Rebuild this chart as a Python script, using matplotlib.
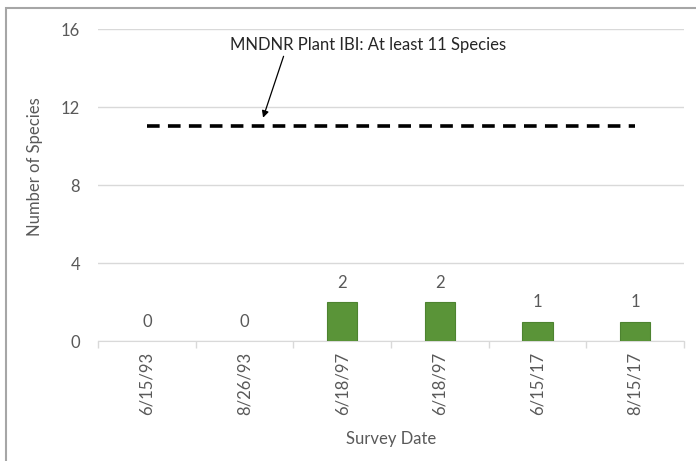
import matplotlib.pyplot as plt
import matplotlib.patches as mpatches
import numpy as np

dates = ["6/15/93", "8/26/93", "6/18/97", "6/18/97", "6/15/17", "8/15/17"]
species = [0, 0, 2, 2, 1, 1]
ibi_target = 11
yticks = [0, 4, 8, 12, 16]

plt.rcParams['font.family'] = ['Lato', 'DejaVu Sans']
grey = "#595959"

fig = plt.figure(figsize=(6.96, 4.61), dpi=100)
ax = fig.add_axes([98 / 696, 120 / 461, 586 / 696, 312 / 461])

x = np.arange(len(dates))
edges = ["#4d8330" if v > 0 else "none" for v in species]
ax.bar(x, species, width=0.31, color="#5a9438", edgecolor=edges,
       linewidth=0.8, zorder=3)

# labels above bars
for xi, v in zip(x, species):
    ax.annotate(str(v), (xi, v), xytext=(0, 8), textcoords="offset points",
                ha="center", va="bottom", fontsize=12, color=grey)

# target line
ax.plot([x[0], x[-1]], [ibi_target, ibi_target], color="black", lw=2.6,
        dashes=(3.5, 2.3), zorder=4)

ax.text(2.27, 15.2, "MNDNR Plant IBI: At least 11 Species", ha="center",
        va="center", fontsize=12, color="#262626")
ax.annotate("", xy=(1.19, 11.45), xytext=(1.40, 14.6),
            arrowprops=dict(arrowstyle="-|>", color="black", lw=0.9,
                            mutation_scale=10, shrinkA=0, shrinkB=0))

ax.set_xlim(-0.5, len(dates) - 0.5)
ax.set_ylim(0, 16)
ax.set_yticks(yticks)
ax.yaxis.grid(True, color="#d9d9d9", lw=1)
ax.set_axisbelow(True)
ax.tick_params(axis="y", length=0, pad=13, labelsize=12, labelcolor=grey)

ax.set_xticks(x)
ax.set_xticklabels(dates, rotation=90, fontsize=12, color=grey)
ax.tick_params(axis="x", length=0, pad=8)
ax.set_xticks(np.arange(-0.5, len(dates)), minor=True)
ax.tick_params(axis="x", which="minor", length=5, color="#d9d9d9", width=1)

for s in ["top", "right", "left"]:
    ax.spines[s].set_visible(False)
ax.spines["bottom"].set_color("#d9d9d9")

ax.set_ylabel("Number of Species", fontsize=12, color=grey)
ax.yaxis.set_label_coords(-0.094, 0.56)
ax.set_xlabel("Survey Date", fontsize=12, color=grey, labelpad=11)

# outer chart border
fig.patches.append(mpatches.Rectangle((6 / 696, -0.1), 1.1, 1.1 - 8 / 461,
                                      transform=fig.transFigure, fill=False,
                                      edgecolor="#a6a6a6", lw=1.5))

fig.savefig("out.png", dpi=100)
